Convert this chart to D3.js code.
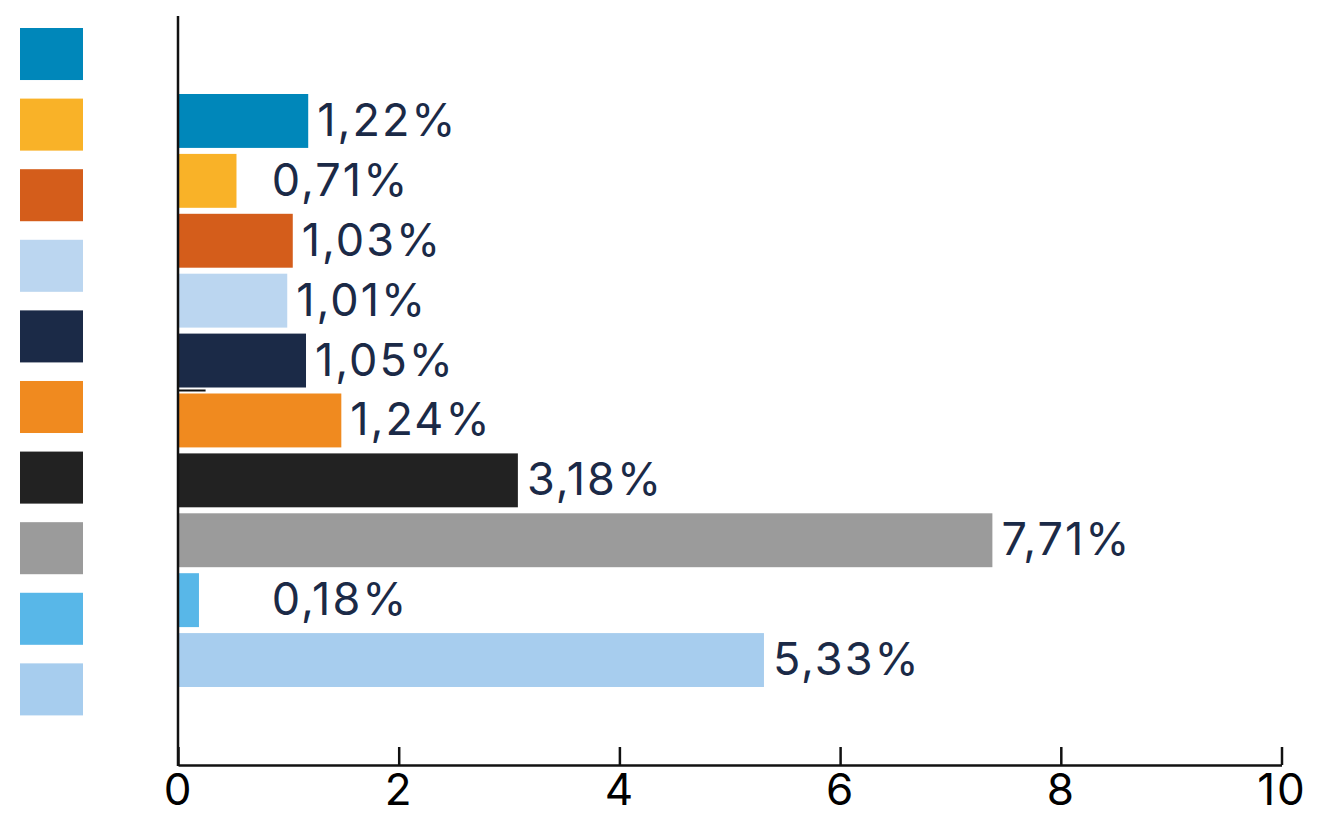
<!DOCTYPE html>
<html>
<head>
<meta charset="utf-8">
<script src="https://cdn.jsdelivr.net/npm/d3@7"></script>
<style>
  body { margin: 0; background: #fff; }
  svg text { font-family: Inter, "Noto Sans", sans-serif; }
</style>
</head>
<body>
<div id="chart"></div>
<script>
// categories (the legend has no names, only colour swatches)
var categories = ["c1", "c2", "c3", "c4", "c5", "c6", "c7", "c8", "c9", "c10"];
// bar lengths as drawn
var barValues = [1.18, 0.53, 1.04, 0.99, 1.16, 1.48, 3.08, 7.38, 0.19, 5.31];
// printed labels
var valueLabels = ["1,22%", "0,71%", "1,03%", "1,01%", "1,05%", "1,24%", "3,18%", "7,71%", "0,18%", "5,33%"];
var colors = ["#0087ba", "#f9b228", "#d45d1b", "#bbd6f0", "#1b2a47",
              "#f08a1f", "#222222", "#9b9b9b", "#58b7e8", "#a7cdee"];
var xTicks = [0, 2, 4, 6, 8, 10];

var width = 1318, height = 817;

var svg = d3.select("#chart")
    .append("svg")
    .attr("width", width)
    .attr("height", height);

var xScale = d3.scaleLinear()
    .domain([0, 10])
    .range([178, 1281.5]);

var yScale = d3.scaleBand()
    .domain(categories)
    .range([91, 690])
    .paddingInner(0.1)
    .paddingOuter(0.05);

var legendScale = d3.scaleBand()
    .domain(categories)
    .range([28, 715.4])
    .paddingInner(0.263)
    .paddingOuter(0);

var data = categories.map(function(c, i) {
    return {cat: c, value: barValues[i], label: valueLabels[i], color: colors[i]};
});

// legend swatches
svg.append("g")
    .selectAll("rect")
    .data(data)
    .enter()
    .append("rect")
    .attr("x", 20)
    .attr("y", function(d) { return legendScale(d.cat); })
    .attr("width", 63)
    .attr("height", legendScale.bandwidth())
    .attr("fill", function(d) { return d.color; });

// bars
svg.append("g")
    .selectAll("rect")
    .data(data)
    .enter()
    .append("rect")
    .attr("x", xScale(0))
    .attr("y", function(d) { return yScale(d.cat); })
    .attr("width", function(d) { return xScale(d.value) - xScale(0); })
    .attr("height", yScale.bandwidth())
    .attr("fill", function(d) { return d.color; });

// value labels
svg.append("g")
    .selectAll("text")
    .data(data)
    .enter()
    .append("text")
    .attr("x", function(d) { return Math.max(xScale(d.value) + 9, xScale(0.85)); })
    .attr("y", function(d) { return yScale(d.cat) + yScale.bandwidth() / 2 + 15; })
    .attr("fill", "#1b2a47")
    .style("font-size", "45px")
    .style("letter-spacing", "2px")
    .text(function(d) { return d.label; });

// little stray mark between 5th and 6th bar
var gapY = yScale("c6") - (yScale.step() - yScale.bandwidth()) / 2;
svg.append("line")
    .attr("x1", xScale(0))
    .attr("x2", xScale(0.25))
    .attr("y1", gapY)
    .attr("y2", gapY)
    .attr("stroke", "#111")
    .attr("stroke-width", 2);

// x axis
var axisY = 765;
var xAxis = d3.axisBottom(xScale)
    .tickValues(xTicks)
    .tickSizeInner(-18)
    .tickSizeOuter(0)
    .tickPadding(9)
    .tickFormat(d3.format("d"));

var gx = svg.append("g")
    .attr("transform", "translate(0," + axisY + ")")
    .call(xAxis);
gx.select(".domain").attr("stroke", "#111").attr("stroke-width", 2.5);
gx.selectAll(".tick line").attr("stroke", "#111").attr("stroke-width", 2.5);
gx.selectAll(".tick text")
    .attr("fill", "#000")
    .style("font-size", "44px")
    .style("letter-spacing", "2px")
    .style("font-family", "Inter, 'Noto Sans', sans-serif");

// y axis line
svg.append("line")
    .attr("x1", xScale(0))
    .attr("x2", xScale(0))
    .attr("y1", 16)
    .attr("y2", axisY + 1)
    .attr("stroke", "#111")
    .attr("stroke-width", 2.5);
</script>
</body>
</html>
